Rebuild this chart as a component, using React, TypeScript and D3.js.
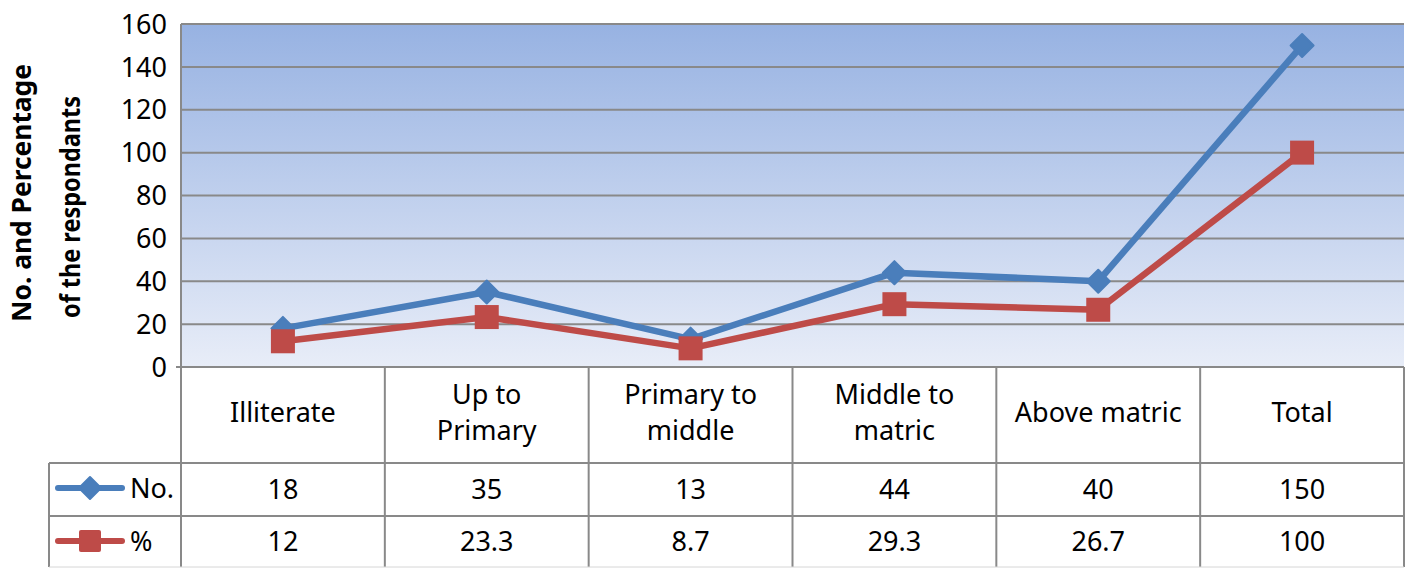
import React from 'react';
import * as d3 from 'd3';

const categories = [['Illiterate'], ['Up to', 'Primary'], ['Primary to', 'middle'], ['Middle to', 'matric'], ['Above matric'], ['Total']];
const countValues = [18, 35, 13, 44, 40, 150];
const percentValues = [12, 23.3, 8.7, 29.3, 26.7, 100];
const percentLabels = ['12', '23.3', '8.7', '29.3', '26.7', '100'];
const yTicks = [0, 20, 40, 60, 80, 100, 120, 140, 160];

const W = 1412;
const H = 569;
const FONT = '"Noto Sans", "Open Sans", sans-serif';
const BLUE = '#4a7ebb';
const RED = '#be4b48';
const GRID = '#898989';

export default function App() {
  const left = 181, right = 1404, top = 24, bottom = 367;
  const headBottom = 463, row1Bottom = 516, tableBottom = 567;
  const legendLeft = 49;

  const x = d3.scaleBand<number>().domain(d3.range(categories.length)).range([left, right]);
  const y = d3.scaleLinear().domain([0, 160]).range([bottom, top]);
  const cx = (i: number) => (x(i) as number) + x.bandwidth() / 2;

  const line = d3.line<number>().x((_, i) => cx(i)).y(d => y(d));

  const diamond = (px: number, py: number, r: number) =>
    `M${px},${py - r}L${px + r},${py}L${px},${py + r}L${px - r},${py}Z`;

  return (
    <svg width={W} height={H} style={{ position: 'absolute', left: 0, top: 0, background: '#fff' }}>
      <defs>
        <linearGradient id="bg" x1="0" y1="0" x2="0" y2="1">
          <stop offset="0" stopColor="#97b2e2" />
          <stop offset="1" stopColor="#e8edf8" />
        </linearGradient>
      </defs>

      {/* plot background */}
      <rect x={left} y={top} width={right - left} height={bottom - top} fill="url(#bg)" />

      {/* gridlines */}
      {yTicks.map(t => (
        <line key={t} x1={t === 0 ? left - 5 : left} x2={right} y1={y(t)} y2={y(t)} stroke={GRID} strokeWidth={2} />
      ))}

      {/* y tick labels */}
      {yTicks.map(t => (
        <text key={'l' + t} x={167} y={y(t)} dy="0.36em" textAnchor="end" fontFamily={FONT} fontSize={27} fill="#000">
          {t}
        </text>
      ))}

      {/* y axis title */}
      <text transform="translate(31,193) rotate(-90)" textAnchor="middle" fontFamily={FONT} fontSize={26} fontWeight="bold"
        textLength={258} lengthAdjust="spacingAndGlyphs">
        No. and Percentage
      </text>
      <text transform="translate(80,207) rotate(-90)" textAnchor="middle" fontFamily={FONT} fontSize={26} fontWeight="bold"
        textLength={222} lengthAdjust="spacingAndGlyphs">
        of the respondants
      </text>

      {/* data table grid */}
      <line x1={left} x2={left} y1={top} y2={tableBottom} stroke={GRID} strokeWidth={2} />
      {categories.map((_, i) => (
        <line key={'v' + i} x1={(x(i) as number) + x.bandwidth()} x2={(x(i) as number) + x.bandwidth()} y1={bottom} y2={tableBottom} stroke={GRID} strokeWidth={2} />
      ))}
      <line x1={legendLeft} x2={legendLeft} y1={headBottom} y2={tableBottom} stroke={GRID} strokeWidth={2} />
      {[headBottom, row1Bottom].map(v => (
        <line key={'h' + v} x1={legendLeft} x2={right} y1={v} y2={v} stroke={GRID} strokeWidth={2} />
      ))}
      <line x1={legendLeft} x2={right} y1={tableBottom} y2={tableBottom} stroke="#d6d6d6" strokeWidth={1} />

      {/* category header */}
      {categories.map((c, i) => {
        const mid = (bottom + headBottom) / 2 - 3;
        const lh = 36;
        const start = mid - ((c.length - 1) * lh) / 2;
        return (
          <text key={'c' + i} textAnchor="middle" fontFamily={FONT} fontSize={27}>
            {c.map((s, j) => (
              <tspan key={j} x={cx(i)} y={start + j * lh} dy="0.36em">{s}</tspan>
            ))}
          </text>
        );
      })}

      {/* table values */}
      {countValues.map((v, i) => (
        <text key={'n' + i} x={cx(i)} y={(headBottom + row1Bottom) / 2} dy="0.36em" textAnchor="middle" fontFamily={FONT} fontSize={27}>
          {v}
        </text>
      ))}
      {percentLabels.map((v, i) => (
        <text key={'p' + i} x={cx(i)} y={(row1Bottom + tableBottom) / 2} dy="0.36em" textAnchor="middle" fontFamily={FONT} fontSize={27}>
          {v}
        </text>
      ))}

      {/* legend keys */}
      <line x1={58} x2={122} y1={488} y2={488} stroke={BLUE} strokeWidth={6} strokeLinecap="round" />
      <path d={diamond(90, 488, 11)} fill={BLUE} stroke={BLUE} strokeWidth={2} strokeLinejoin="round" />
      <text x={130} y={488} dy="0.36em" fontFamily={FONT} fontSize={27}>No.</text>
      <line x1={58} x2={122} y1={541} y2={541} stroke={RED} strokeWidth={6} strokeLinecap="round" />
      <rect x={79} y={530} width={22} height={22} rx={2} fill={RED} />
      <text x={130} y={541} dy="0.36em" fontFamily={FONT} fontSize={27}>%</text>

      {/* series lines */}
      <path d={line(countValues) as string} fill="none" stroke={BLUE} strokeWidth={6.5} strokeLinejoin="round" />
      <path d={line(percentValues) as string} fill="none" stroke={RED} strokeWidth={6.5} strokeLinejoin="round" />

      {/* markers */}
      {countValues.map((v, i) => (
        <path key={'d' + i} d={diamond(cx(i), y(v), 11.5)} fill={BLUE} stroke={BLUE} strokeWidth={2} strokeLinejoin="round" />
      ))}
      {percentValues.map((v, i) => (
        <rect key={'s' + i} x={cx(i) - 12} y={y(v) - 12} width={24} height={24} fill={RED} />
      ))}
    </svg>
  );
}
